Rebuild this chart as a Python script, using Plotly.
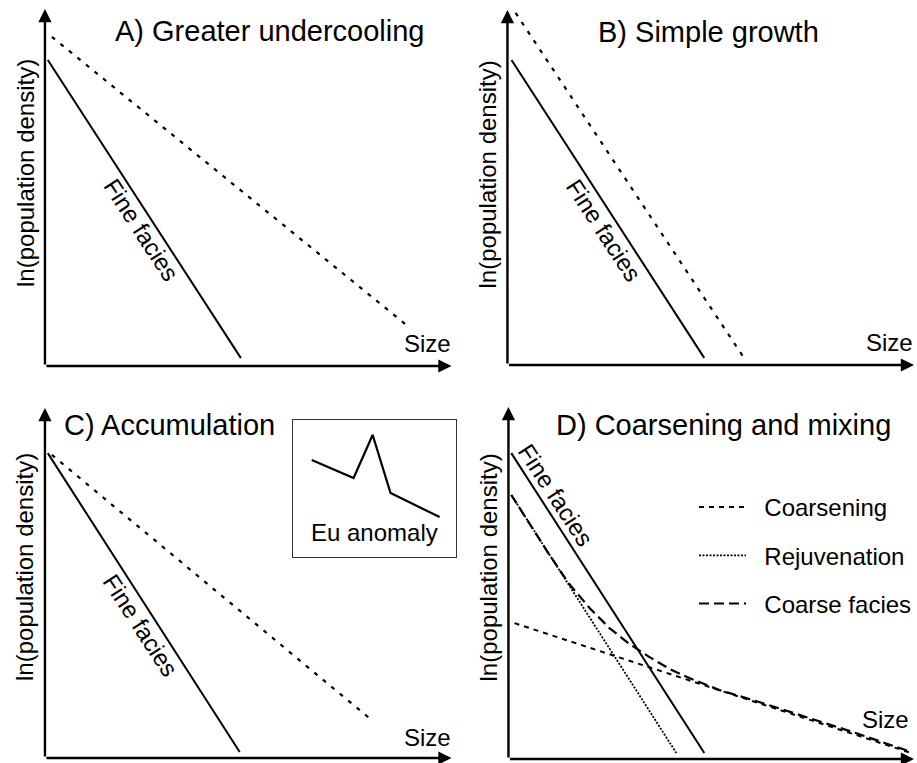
import plotly.graph_objects as go

FIG_W, FIG_H = 917, 763
FONT = "Liberation Sans, Arial, Helvetica, sans-serif"

# ---------------- data (axis units, 0..100 on each panel) ----------------
# Panel A: Greater undercooling
a_fine_x = [0.7, 48.2]
a_fine_y = [85.7, 2.2]
a_under_x = [1.7, 88.9]
a_under_y = [92.2, 11.5]

# Panel B: Simple growth
b_fine_x = [1.0, 48.4]
b_fine_y = [85.9, 2.0]
b_grow_x = [2.0, 58.7]
b_grow_y = [99.2, 1.1]

# Panel C: Accumulation
c_fine_x = [0.7, 47.9]
c_fine_y = [87.1, 1.7]
c_acc_x = [1.7, 80.3]
c_acc_y = [86.6, 10.9]

# Inset: Eu anomaly
eu_x = [11.7, 37.4, 49.1, 60.1, 90.2]
eu_y = [70.8, 57.7, 89.1, 46.7, 29.2]

# Panel D: Coarsening and mixing
d_fine_x = [0.7, 48.3]
d_fine_y = [86.9, 1.7]
d_rejuv_x = [0.7, 41.4]
d_rejuv_y = [75.0, 1.7]
d_coarsen_x = [1.5, 99.3]
d_coarsen_y = [38.6, 1.7]
d_coarse_x = [0.7, 5.2, 10.1, 15.0, 20.0, 24.9, 29.8, 34.7, 39.7, 44.6,
              52.0, 61.8, 71.7, 84.0, 99.3]
d_coarse_y = [75.0, 66.8, 58.0, 49.7, 42.9, 37.2, 32.7, 29.0, 25.6, 23.0,
              19.6, 16.2, 12.5, 8.0, 2.0]

titles = ["A) Greater undercooling", "B) Simple growth",
          "C) Accumulation", "D) Coarsening and mixing"]
y_label = "ln(population density)"
x_label = "Size"
fine_label = "Fine facies"
legend_names = ["Coarsening", "Rejuvenation", "Coarse facies"]

# ---------------- layout geometry (pixels) ----------------
# left, right, top, bottom of each panel's axis box
boxes = {
    "A": (45, 452, 9, 366),
    "B": (508, 915, 10, 365),
    "C": (45, 452, 408, 758),
    "D": (509, 915, 407, 759),
    "E": (293, 456, 420, 557),
}


def dom(box):
    l, r, t, b = box
    return [l / FIG_W, r / FIG_W], [1 - b / FIG_H, 1 - t / FIG_H]


fig = go.Figure()
axis_ids = {"A": "", "B": "2", "C": "3", "D": "4", "E": "5"}

for key, box in boxes.items():
    xd, yd = dom(box)
    n = axis_ids[key]
    ax_common = dict(range=[0, 100], showgrid=False, zeroline=False,
                     showticklabels=False, ticks="", fixedrange=True)
    if key == "E":
        xa = dict(domain=xd, anchor="y" + n, showline=True, mirror=True,
                  linecolor="#333333", linewidth=1.3, **ax_common)
        ya = dict(domain=yd, anchor="x" + n, showline=True, mirror=True,
                  linecolor="#333333", linewidth=1.3, **ax_common)
    else:
        xa = dict(domain=xd, anchor="y" + n, visible=False, **ax_common)
        ya = dict(domain=yd, anchor="x" + n, visible=False, **ax_common)
    fig.layout["xaxis" + n] = xa
    fig.layout["yaxis" + n] = ya


def line(x, y, key, dash="solid", width=2.0, name=None, legend=False):
    n = axis_ids[key]
    fig.add_trace(go.Scatter(
        x=x, y=y, mode="lines", xaxis="x" + n, yaxis="y" + n,
        line=dict(color="black", width=width, dash=dash),
        name=name, showlegend=legend, legendgroup=name if legend else None,
        hoverinfo="skip"))


line(a_fine_x, a_fine_y, "A")
line(a_under_x, a_under_y, "A", dash="4px,7px", width=2.2)
line(b_fine_x, b_fine_y, "B")
line(b_grow_x, b_grow_y, "B", dash="4px,7px", width=2.2)
line(c_fine_x, c_fine_y, "C")
line(c_acc_x, c_acc_y, "C", dash="4px,7px", width=2.2)
line(eu_x, eu_y, "E", width=2.2)
line(d_fine_x, d_fine_y, "D")
line(d_coarsen_x, d_coarsen_y, "D", dash="5px,5px", width=2.0,
     name="\u00a0\u00a0" + legend_names[0], legend=True)
line(d_rejuv_x, d_rejuv_y, "D", dash="2px,1.5px", width=1.8,
     name="\u00a0\u00a0" + legend_names[1], legend=True)
line(d_coarse_x, d_coarse_y, "D", dash="10px,5px", width=2.2,
     name="\u00a0\u00a0" + legend_names[2], legend=True)

ann = []
# axis arrows
for key in ["A", "B", "C", "D"]:
    n = axis_ids[key]
    for (x, y) in [(100, 0), (0, 100)]:
        ann.append(dict(x=x, y=y, ax=0, ay=0, xref="x" + n, yref="y" + n,
                        axref="x" + n, ayref="y" + n, text="", showarrow=True,
                        arrowhead=2, arrowsize=1.1, arrowwidth=2.4,
                        arrowcolor="black", standoff=0))

title_pos = {"A": (16.7, 93.8), "B": (21.9, 93.8), "C": (4.2, 95.1), "D": (11.3, 94.9)}
# y-axis labels in page pixels (centre)
ylab_px = {"A": (25, 173), "B": (489, 174), "C": (24, 567), "D": (489, 567)}
size_pos = {"A": (94.1, 6.4), "B": (93.9, 6.2), "C": (94.1, 6.0), "D": (92.9, 11.1)}
fine_pos = {"A": (23.6, 38.1), "B": (23.8, 38.0), "C": (23.6, 38.0), "D": (11.8, 75.0)}

for i, key in enumerate(["A", "B", "C", "D"]):
    n = axis_ids[key]
    tx, ty = title_pos[key]
    ann.append(dict(x=tx, y=ty, xref="x" + n, yref="y" + n, text=titles[i],
                    showarrow=False, xanchor="left", yanchor="middle",
                    font=dict(size=29, family=FONT, color="black")))
    lx, ly = ylab_px[key]
    ann.append(dict(x=lx / FIG_W, y=1 - ly / FIG_H, xref="paper", yref="paper",
                    text=y_label, showarrow=False, textangle=-90,
                    xanchor="center", yanchor="middle",
                    font=dict(size=24, family=FONT, color="black")))
    sx, sy = size_pos[key]
    ann.append(dict(x=sx, y=sy, xref="x" + n, yref="y" + n, text=x_label,
                    showarrow=False, xanchor="center", yanchor="middle",
                    font=dict(size=24, family=FONT, color="black")))
    fx, fy = fine_pos[key]
    ann.append(dict(x=fx, y=fy, xref="x" + n, yref="y" + n, text=fine_label,
                    showarrow=False, textangle=57, xanchor="center",
                    yanchor="middle", font=dict(size=24, family=FONT, color="black")))

ann.append(dict(x=50, y=18.2, xref="x5", yref="y5", text="Eu anomaly",
                showarrow=False, xanchor="center", yanchor="middle",
                font=dict(size=24, family=FONT, color="black")))

fig.update_layout(
    width=FIG_W, height=FIG_H, autosize=False,
    margin=dict(l=0, r=0, t=0, b=0),
    paper_bgcolor="white", plot_bgcolor="rgba(0,0,0,0)",
    annotations=ann,
    showlegend=True,
    legend=dict(x=695 / FIG_W, y=1 - 485 / FIG_H, xanchor="left", yanchor="top",
                bgcolor="rgba(0,0,0,0)", borderwidth=0, tracegroupgap=14,
                itemwidth=47, font=dict(size=24, family=FONT, color="black")),
    font=dict(family=FONT, color="black"),
)

fig.write_html("out.html", config={"displayModeBar": False},
               post_script="document.body.style.margin='0px';"
                           "document.body.style.overflow='hidden';")
